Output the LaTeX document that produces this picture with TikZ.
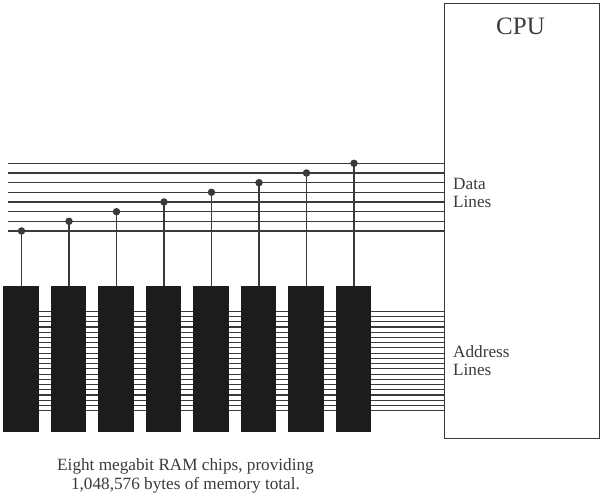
\documentclass[tikz,border=0pt]{standalone}
\usepackage{fontspec}
\setmainfont{Liberation Serif}
\definecolor{ink}{HTML}{3A3A3A}
\definecolor{chipfill}{HTML}{1C1C1C}
\tikzset{
  chip/.style={fill=chipfill,draw=none,inner sep=0pt,minimum width=35.5pt,minimum height=146pt,anchor=north west},
  wire/.style={draw=ink,line width=1.1pt},
  tap/.style={circle,fill=ink,draw=none,inner sep=0pt,minimum size=7.5pt},
  cpubox/.style={draw=ink,line width=1.1pt,inner sep=0pt,minimum width=154.5pt,minimum height=435pt,anchor=north west},
  lbl/.style={inner sep=0pt,align=left,font=\fontsize{17.2}{18}\selectfont,text=ink},
  caption/.style={inner sep=0pt,align=center,font=\fontsize{17.2}{19}\selectfont,text=ink}
}
\begin{document}
\begin{tikzpicture}[x=1pt,y=-1pt]
\useasboundingbox (0,0) rectangle (600,494);
\node[cpubox] (cpu) at (444,3) {};
\node[inner sep=0pt,font=\fontsize{25}{28}\selectfont,text=ink] (cputext) at (520.5,26) {CPU};
% address lines (behind chips)
\foreach \i in {0,...,19}{
  \pgfmathsetmacro{\yy}{311.3+\i*5.23}
  \coordinate (aL\i) at (20,\yy);
  \coordinate (aR\i) at (444,\yy);
  \draw[wire] (aL\i) -- (aR\i);
}
% chips
\foreach \n/\x in {1/3,2/50.5,3/98,4/145.3,5/192.8,6/240.3,7/287.8,8/335.3}{
  \node[chip] (chip\n) at (\x,286) {};
}
% data lines
\foreach \n/\y in {1/231,2/221.3,3/211.7,4/202,5/192.3,6/182.7,7/173,8/163.3}{
  \coordinate (dL\n) at (8,\y);
  \coordinate (dR\n) at (444,\y);
  \draw[wire] (dL\n) -- (dR\n);
}
% taps
\foreach \n/\x/\y in {1/21.5/231,2/69/221.3,3/116.5/211.7,4/164/202,5/211.5/192.3,6/259/182.7,7/306.5/173,8/354/163.3}{
  \node[tap] (tap\n) at (\x,\y) {};
  \draw[wire] (tap\n.center) -- (chip\n.north -| tap\n);
}
\node[lbl,anchor=north west] (data) at (453,178.5) {Data\\Lines};
\node[lbl,anchor=north west] (addr) at (453,345) {Address\\Lines};
\node[caption] (cap) at (185.5,475.5) {Eight megabit RAM chips, providing\\1,048,576 bytes of memory total.};
\end{tikzpicture}
\end{document}
